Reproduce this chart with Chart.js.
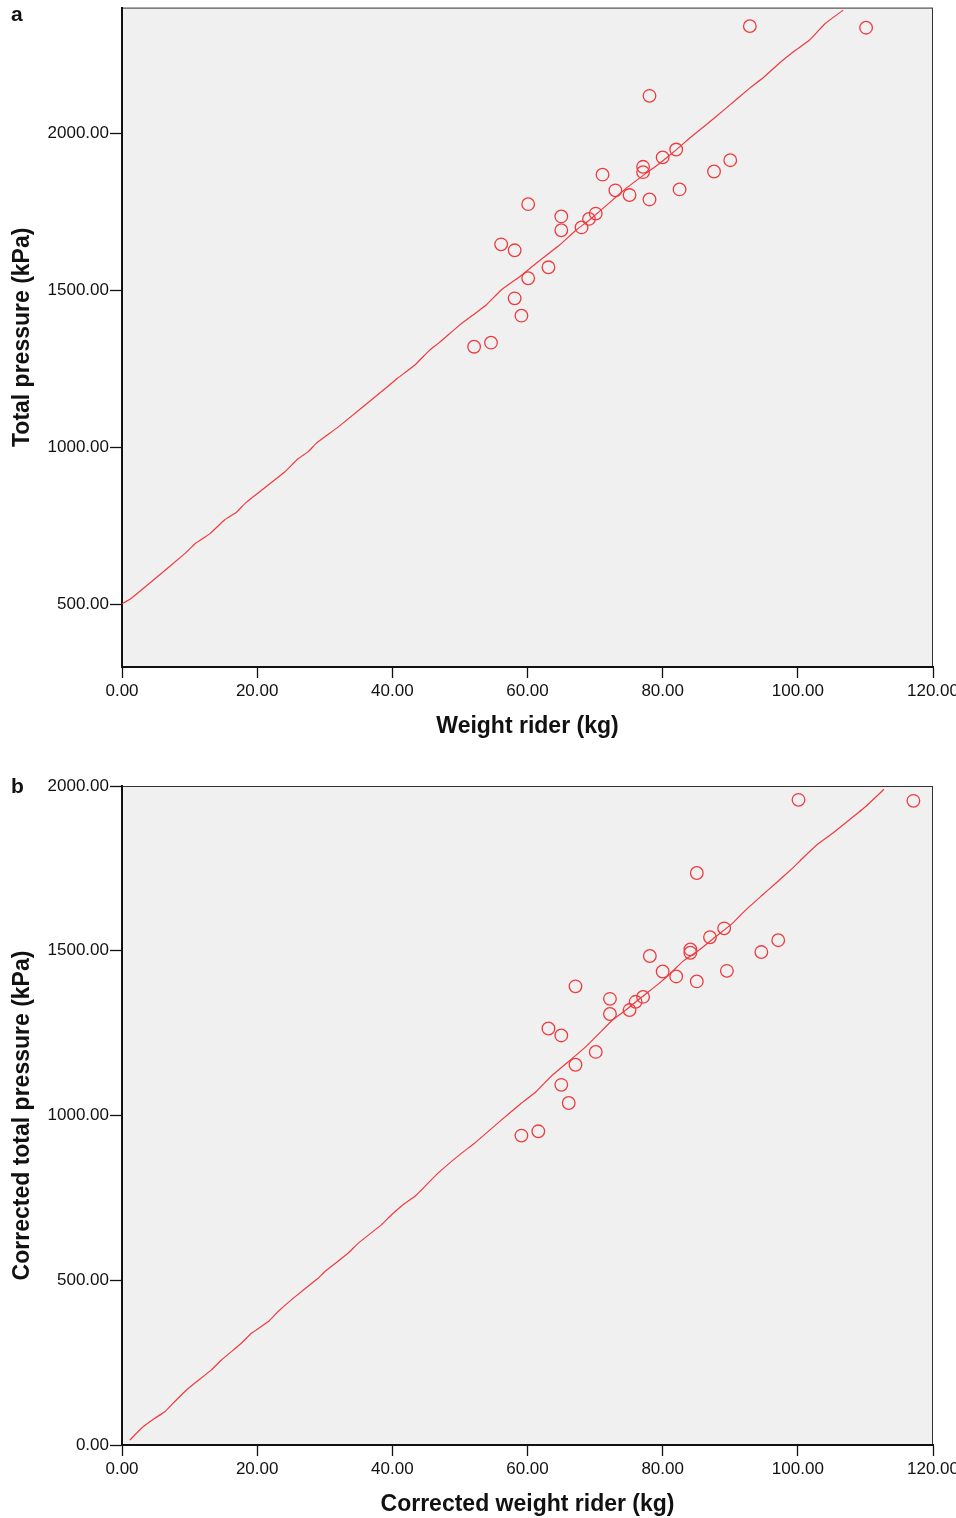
<!DOCTYPE html>
<html>
<head>
<meta charset="utf-8">
<script src="https://cdn.jsdelivr.net/npm/chart.js@4.4.1/dist/chart.umd.min.js"></script>
<style>
  html, body { margin: 0; padding: 0; background: #fff; overflow: hidden; }
  canvas { display: block; }
</style>
</head>
<body>
<canvas id="chartA" width="960" height="760"></canvas>
<canvas id="chartB" width="960" height="758"></canvas>
<script>
// panel a: rider weight vs total pressure
const weightA = [92.9, 110.1, 78.05, 82.0, 80.0, 90.0, 77.1, 77.1, 87.6, 71.1, 73.0, 75.1, 82.5, 78.05,
  60.1, 65.0, 65.0, 70.1, 69.1, 68.0, 56.1, 58.1, 63.1, 60.1, 58.1, 59.1, 54.6, 52.1];
const pressureA = [2341, 2336, 2119, 1948, 1923, 1914, 1893, 1876, 1878, 1868, 1818, 1803, 1821, 1789,
  1774, 1735, 1691, 1744, 1727, 1700, 1646, 1627, 1573, 1538, 1474, 1419, 1333, 1320];
const fitWeightA = [0, 1.4, 3.37, 9.29, 10.77, 12.98, 15.2, 16.93, 18.41, 24.07, 26.05, 27.53, 28.76, 31.97,
  39.36, 40.84, 43.3, 45.52, 46.95, 49.9, 51.88, 53.85, 56.07, 58.78, 61.25, 64.7, 67.16, 69.13, 72.58,
  74.56, 77.52, 79.48, 81.95, 83.92, 86.39, 89.35, 92.79, 95.0, 97.2, 99.7, 101.7, 104.1, 106.7];
const fitPressureA = [501, 519, 554, 661, 692, 724, 769, 793, 825, 921, 963, 985, 1013, 1064,
  1194, 1221, 1261, 1309, 1333, 1388, 1420, 1452, 1500, 1542, 1585, 1643, 1691, 1723, 1787,
  1824, 1872, 1903, 1946, 1983, 2026, 2079, 2142, 2179, 2222, 2265, 2296, 2350, 2392];
const yTicksA = [500, 1000, 1500, 2000];

// panel b: corrected values
const weightB = [100.1, 117.1, 85.05, 89.1, 87.0, 97.1, 84.1, 84.1, 94.6, 78.1, 80.0, 82.0, 89.5, 85.05,
  67.1, 72.2, 72.2, 77.1, 76.0, 75.1, 63.1, 65.0, 70.1, 67.1, 65.0, 66.1, 61.6, 59.1];
const pressureB = [1958, 1955, 1736, 1568, 1541, 1532, 1504, 1494, 1496, 1484, 1437, 1422, 1439, 1407,
  1392, 1354, 1308, 1360, 1345, 1320, 1264, 1243, 1193, 1154, 1093, 1038, 952, 939];
const fitWeightB = [1.16, 2.88, 4.85, 6.33, 7.57, 9.54, 13.23, 14.71, 17.67, 19.15, 21.62, 23.1, 25.32,
  29.01, 29.99, 33.45, 34.93, 38.37, 39.85, 41.82, 43.3, 44.78, 46.76, 50.2, 52.17, 54.15, 56.12, 58.78,
  61.25, 63.7, 66.66, 68.64, 70.6, 72.58, 74.56, 77.0, 79.48, 81.45, 82.93, 85.4, 87.87, 90.32, 92.3,
  94.76, 96.74, 99.2, 100.67, 103.1, 105.1, 107.6, 110.0, 112.75];
const fitPressureB = [15, 51, 81, 101, 127, 167, 228, 258, 309, 339, 374, 405, 445,
  506, 526, 582, 612, 668, 698, 733, 754, 784, 825, 885, 916, 951, 986, 1032,
  1072, 1123, 1174, 1209, 1249, 1290, 1320, 1361, 1401, 1437, 1467, 1502, 1543, 1583, 1624,
  1669, 1705, 1750, 1780, 1826, 1856, 1897, 1937, 1990];
const yTicksB = [0, 500, 1000, 1500, 2000];

const xTicks = [0, 20, 40, 60, 80, 100, 120];

const RED = '#ee3b3f';
const INK = '#111';
const FAMILY = '"Liberation Sans", Arial, Helvetica, sans-serif';

const toXY = (xs, ys) => xs.map((x, i) => ({ x: x, y: ys[i] }));

// grey plot background, thin frame, panel letter
const framePlugin = {
    id: 'frame',
    beforeDraw(chart, args, opts) {
        const { ctx, chartArea: a } = chart;
        ctx.save();
        ctx.fillStyle = '#f0f0f0';
        ctx.fillRect(a.left, a.top, a.right - a.left, a.bottom - a.top);
        ctx.strokeStyle = '#333';
        ctx.lineWidth = 1;
        ctx.strokeRect(a.left + 0.5, a.top + 0.5, a.right - a.left - 1, a.bottom - a.top - 1);
        ctx.restore();
    },
    afterDraw(chart, args, opts) {
        const ctx = chart.ctx;
        ctx.save();
        ctx.fillStyle = INK;
        ctx.font = 'bold 21px ' + FAMILY;
        ctx.textBaseline = 'alphabetic';
        ctx.fillText(opts.letter, 11, opts.letterY);
        ctx.restore();
    }
};

function makeChart(id, s) {
    return new Chart(document.getElementById(id).getContext('2d'), {
        type: 'scatter',
        data: {
            datasets: [
                {
                    data: toXY(s.px, s.py),
                    pointStyle: 'circle',
                    pointRadius: 6.3,
                    borderColor: RED,
                    backgroundColor: 'rgba(0,0,0,0)',
                    borderWidth: 1.3,
                    order: 1
                },
                {
                    type: 'line',
                    data: toXY(s.lx, s.ly),
                    borderColor: RED,
                    borderWidth: 1.2,
                    pointRadius: 0,
                    tension: 0.1,
                    fill: false,
                    order: 0
                }
            ]
        },
        options: {
            responsive: false,
            animation: false,
            events: [],
            layout: { padding: s.padding },
            plugins: {
                legend: { display: false },
                tooltip: { enabled: false },
                frame: { letter: s.letter, letterY: s.letterY }
            },
            scales: {
                x: {
                    type: 'linear',
                    min: 0,
                    max: 120,
                    afterFit: (sc) => {
                        sc.height = s.xHeight;
                        sc.paddingLeft = 0;
                        sc.paddingRight = 0;
                    },
                    afterBuildTicks: (sc) => { sc.ticks = xTicks.map(v => ({ value: v })); },
                    border: { display: true, color: INK, width: 2 },
                    grid: { drawOnChartArea: false, drawTicks: true, tickLength: 11, tickWidth: 1.3, color: INK },
                    ticks: {
                        padding: 3,
                        color: INK,
                        maxRotation: 0,
                        font: { family: FAMILY, size: 17 },
                        callback: (v) => Number(v).toFixed(2)
                    },
                    title: {
                        display: true,
                        text: s.xTitle,
                        color: INK,
                        font: { family: FAMILY, size: 23, weight: 'bold' },
                        padding: { top: 0, bottom: s.xTitlePad }
                    }
                },
                y: {
                    type: 'linear',
                    min: s.yMin,
                    max: s.yMax,
                    afterFit: (sc) => {
                        sc.width = 122;
                        sc.paddingTop = 0;
                        sc.paddingBottom = 0;
                    },
                    afterBuildTicks: (sc) => { sc.ticks = s.yTicks.map(v => ({ value: v })); },
                    border: { display: true, color: INK, width: 2 },
                    grid: { drawOnChartArea: false, drawTicks: true, tickLength: 12, tickWidth: 1.3, color: INK },
                    ticks: {
                        padding: 1,
                        color: INK,
                        font: { family: FAMILY, size: 17 },
                        callback: (v) => Number(v).toFixed(2)
                    },
                    title: {
                        display: true,
                        text: s.yTitle,
                        color: INK,
                        font: { family: FAMILY, size: 23, weight: 'bold' },
                        padding: { top: 9, bottom: 0 }
                    }
                }
            }
        },
        plugins: [framePlugin]
    });
}

makeChart('chartA', {
    px: weightA, py: pressureA, lx: fitWeightA, ly: fitPressureA,
    yMin: 300, yMax: 2400, yTicks: yTicksA,
    xTitle: 'Weight rider (kg)', yTitle: 'Total pressure (kPa)',
    letter: 'a', letterY: 21,
    padding: { top: 7, right: 27, bottom: 0, left: 0 },
    xHeight: 93, xTitlePad: 20
});

makeChart('chartB', {
    px: weightB, py: pressureB, lx: fitWeightB, ly: fitPressureB,
    yMin: 0, yMax: 2000, yTicks: yTicksB,
    xTitle: 'Corrected weight rider (kg)', yTitle: 'Corrected total pressure (kPa)',
    letter: 'b', letterY: 33,
    padding: { top: 26, right: 27, bottom: 0, left: 0 },
    xHeight: 73, xTitlePad: 0
});
</script>
</body>
</html>
